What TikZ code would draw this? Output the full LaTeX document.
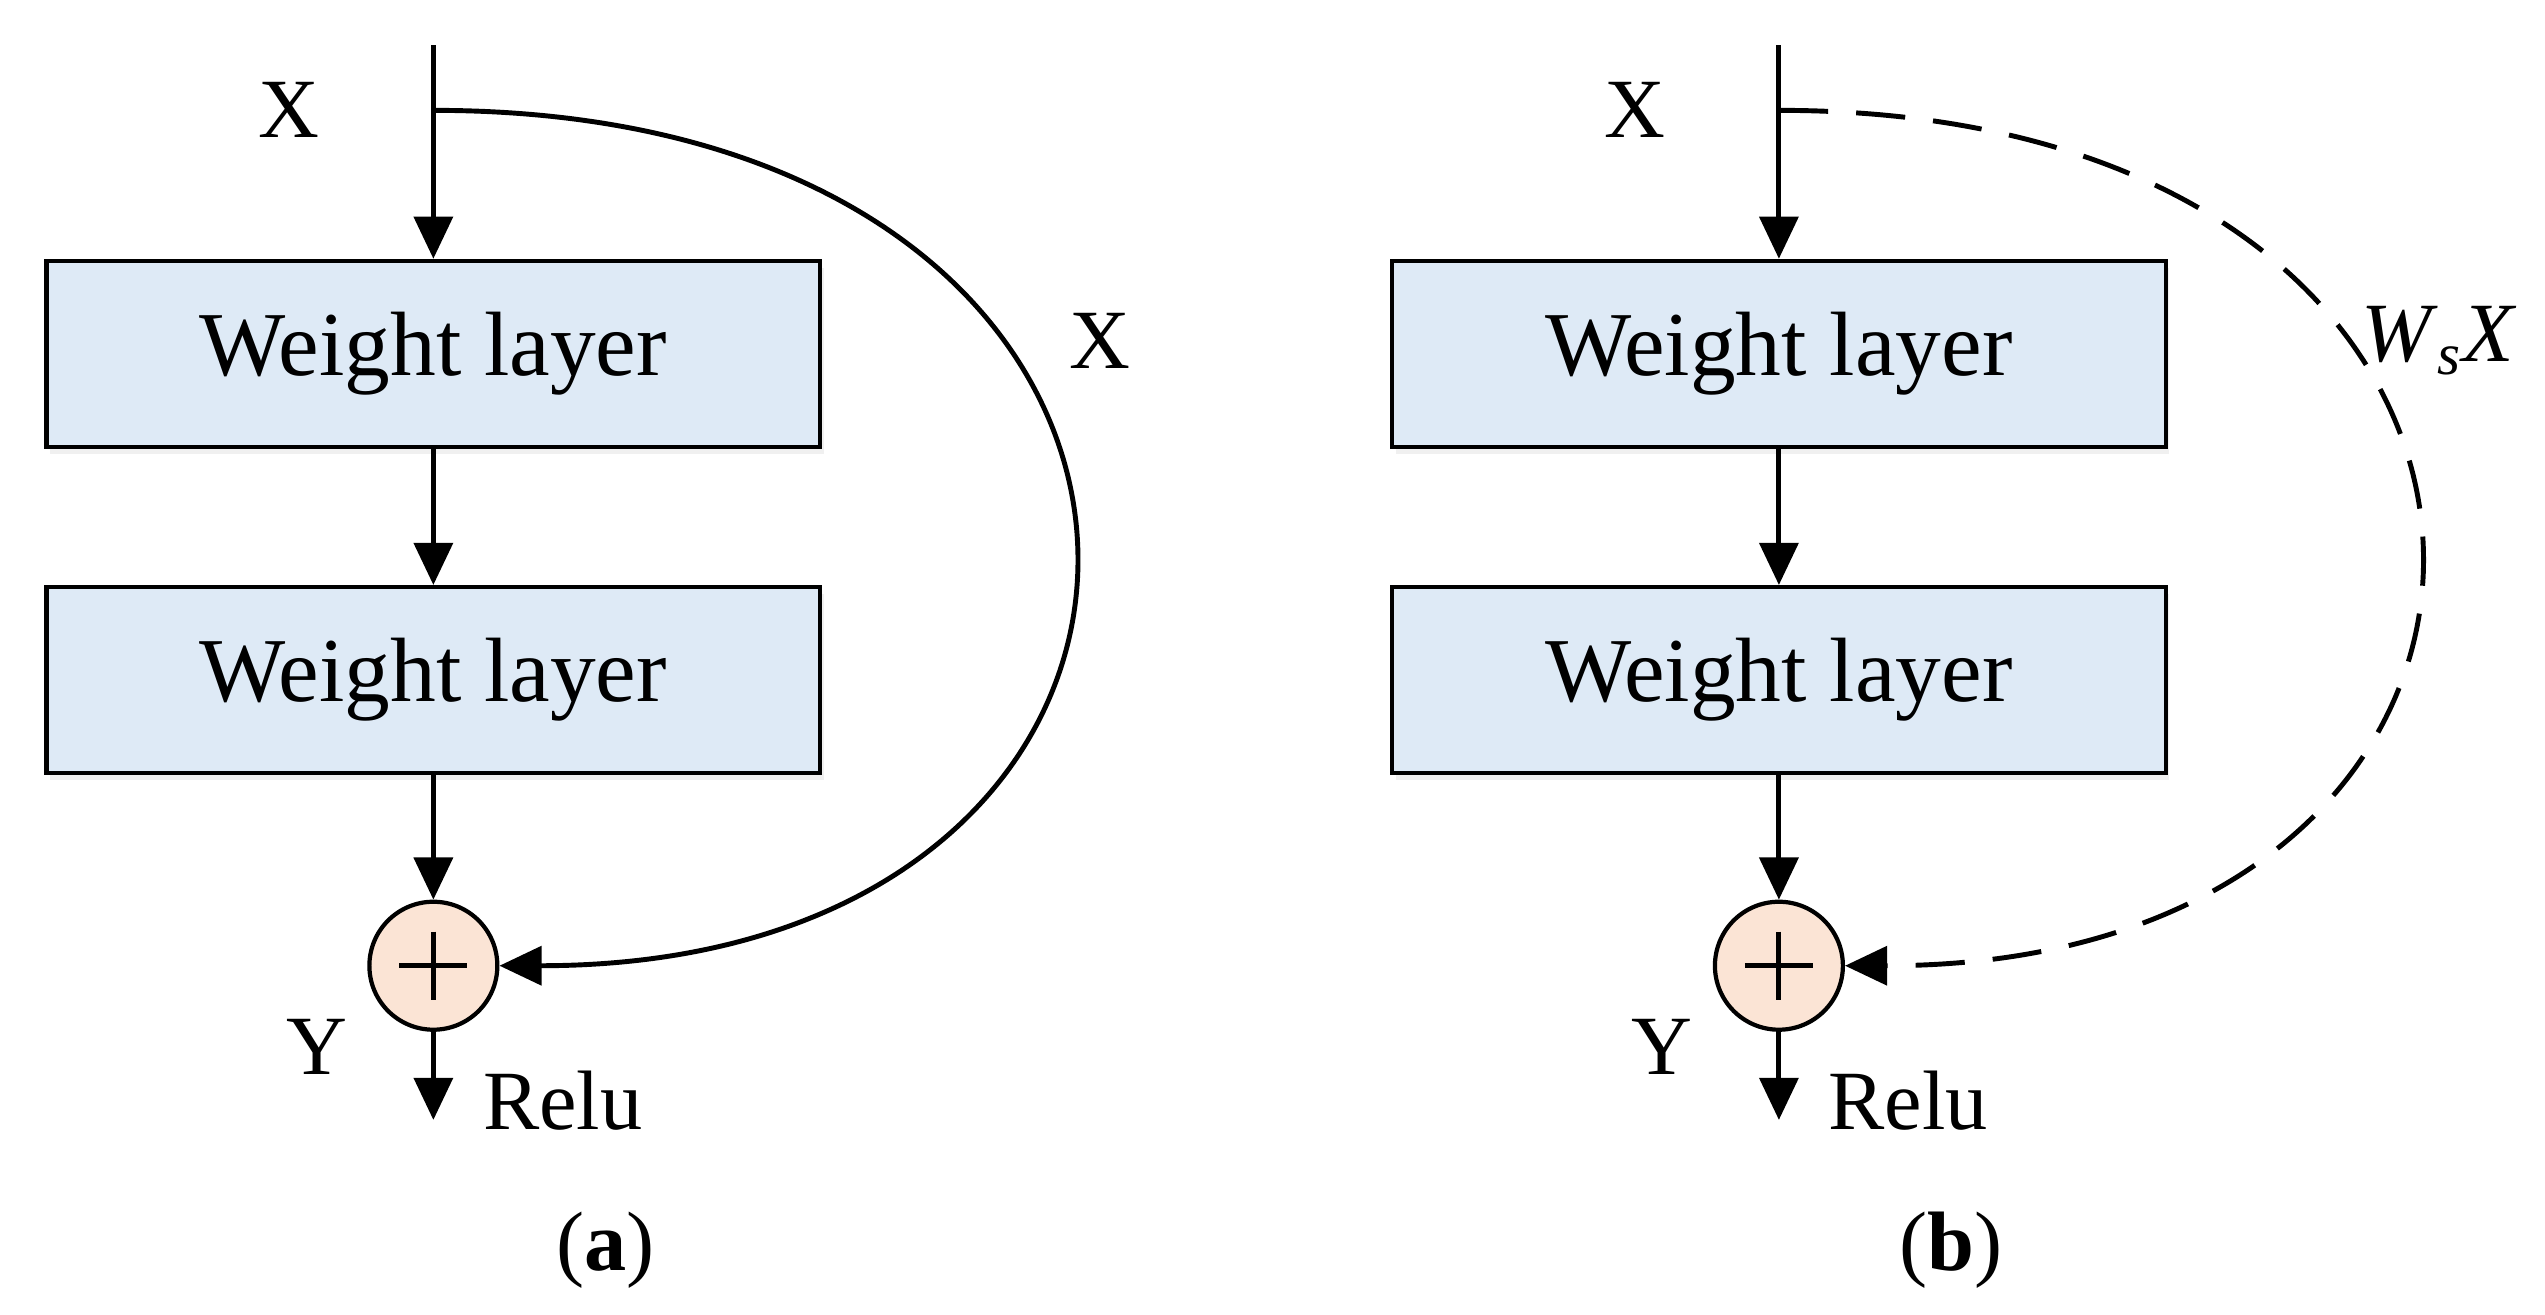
\documentclass[tikz,border=0pt]{standalone}
\usepackage{fontspec}
\setmainfont{Liberation Serif}
\usetikzlibrary{positioning,arrows.meta,shadows}
\definecolor{boxcolor}{RGB}{222,234,246}
\definecolor{sumcolor}{RGB}{251,228,213}
\begin{document}
\begin{tikzpicture}[
    x=0.01623cm, y=-0.01623cm,
    every node/.style={font=\fontsize{24}{28}\selectfont},
    layer/.style={draw, line width=1.2pt, fill=boxcolor, minimum width=7.74cm, minimum height=1.86cm,
        font=\fontsize{26}{31}\selectfont, drop shadow={opacity=0.12, shadow xshift=1pt, shadow yshift=-2pt}},
    sum/.style={draw, circle, line width=1.2pt, fill=sumcolor, minimum size=1.28cm, inner sep=0pt},
    arrow/.style={-{Triangle[length=12pt, width=11pt]}, line width=1.4pt},
    plain/.style={},
    broken/.style={dash pattern=on 14pt off 8pt}
]
\useasboundingbox (0,0) rectangle (1568,810);

\foreach \dx/\lab/\sk/\sx/\dsh in {0/a/X/697/plain, 829/b/\textit{W}\textsubscript{\textit{s}}\textit{X}/722/broken}{
\begin{scope}[xshift=\dx*0.01623cm]
% input
\coordinate (top) at (267,28);
\coordinate (split) at (267,68);
\node (xin) at (178,68) {X};
% weight layers
\node[layer] (w1) at (267,218) {Weight layer};
\node[layer] (w2) at (267,419) {Weight layer};
% addition
\node[sum] (add) at (267,595) {};
\draw[line width=1.4pt] (add.center) ++(-21,0) -- ++(42,0);
\draw[line width=1.4pt] (add.center) ++(0,-21) -- ++(0,42);
\coordinate (out) at (267,690);
\node (y) at (195,645) {Y};
\node[anchor=west] (relu) at (290,678) {Relu};
\draw[arrow] (top) -- (w1);
\draw[arrow] (w1) -- (w2);
\draw[arrow] (w2) -- (add);
\draw[arrow] (add) -- (out);
% shortcut
\draw[arrow, \dsh] (split) .. controls (785,68) and (785,595) .. (add.east);
\node[anchor=east, inner sep=0pt] (skip) at (\sx,210) {\sk};
\node (cap) at (373,770) {(\textbf{\lab})};
\end{scope}
}
\end{tikzpicture}
\end{document}
